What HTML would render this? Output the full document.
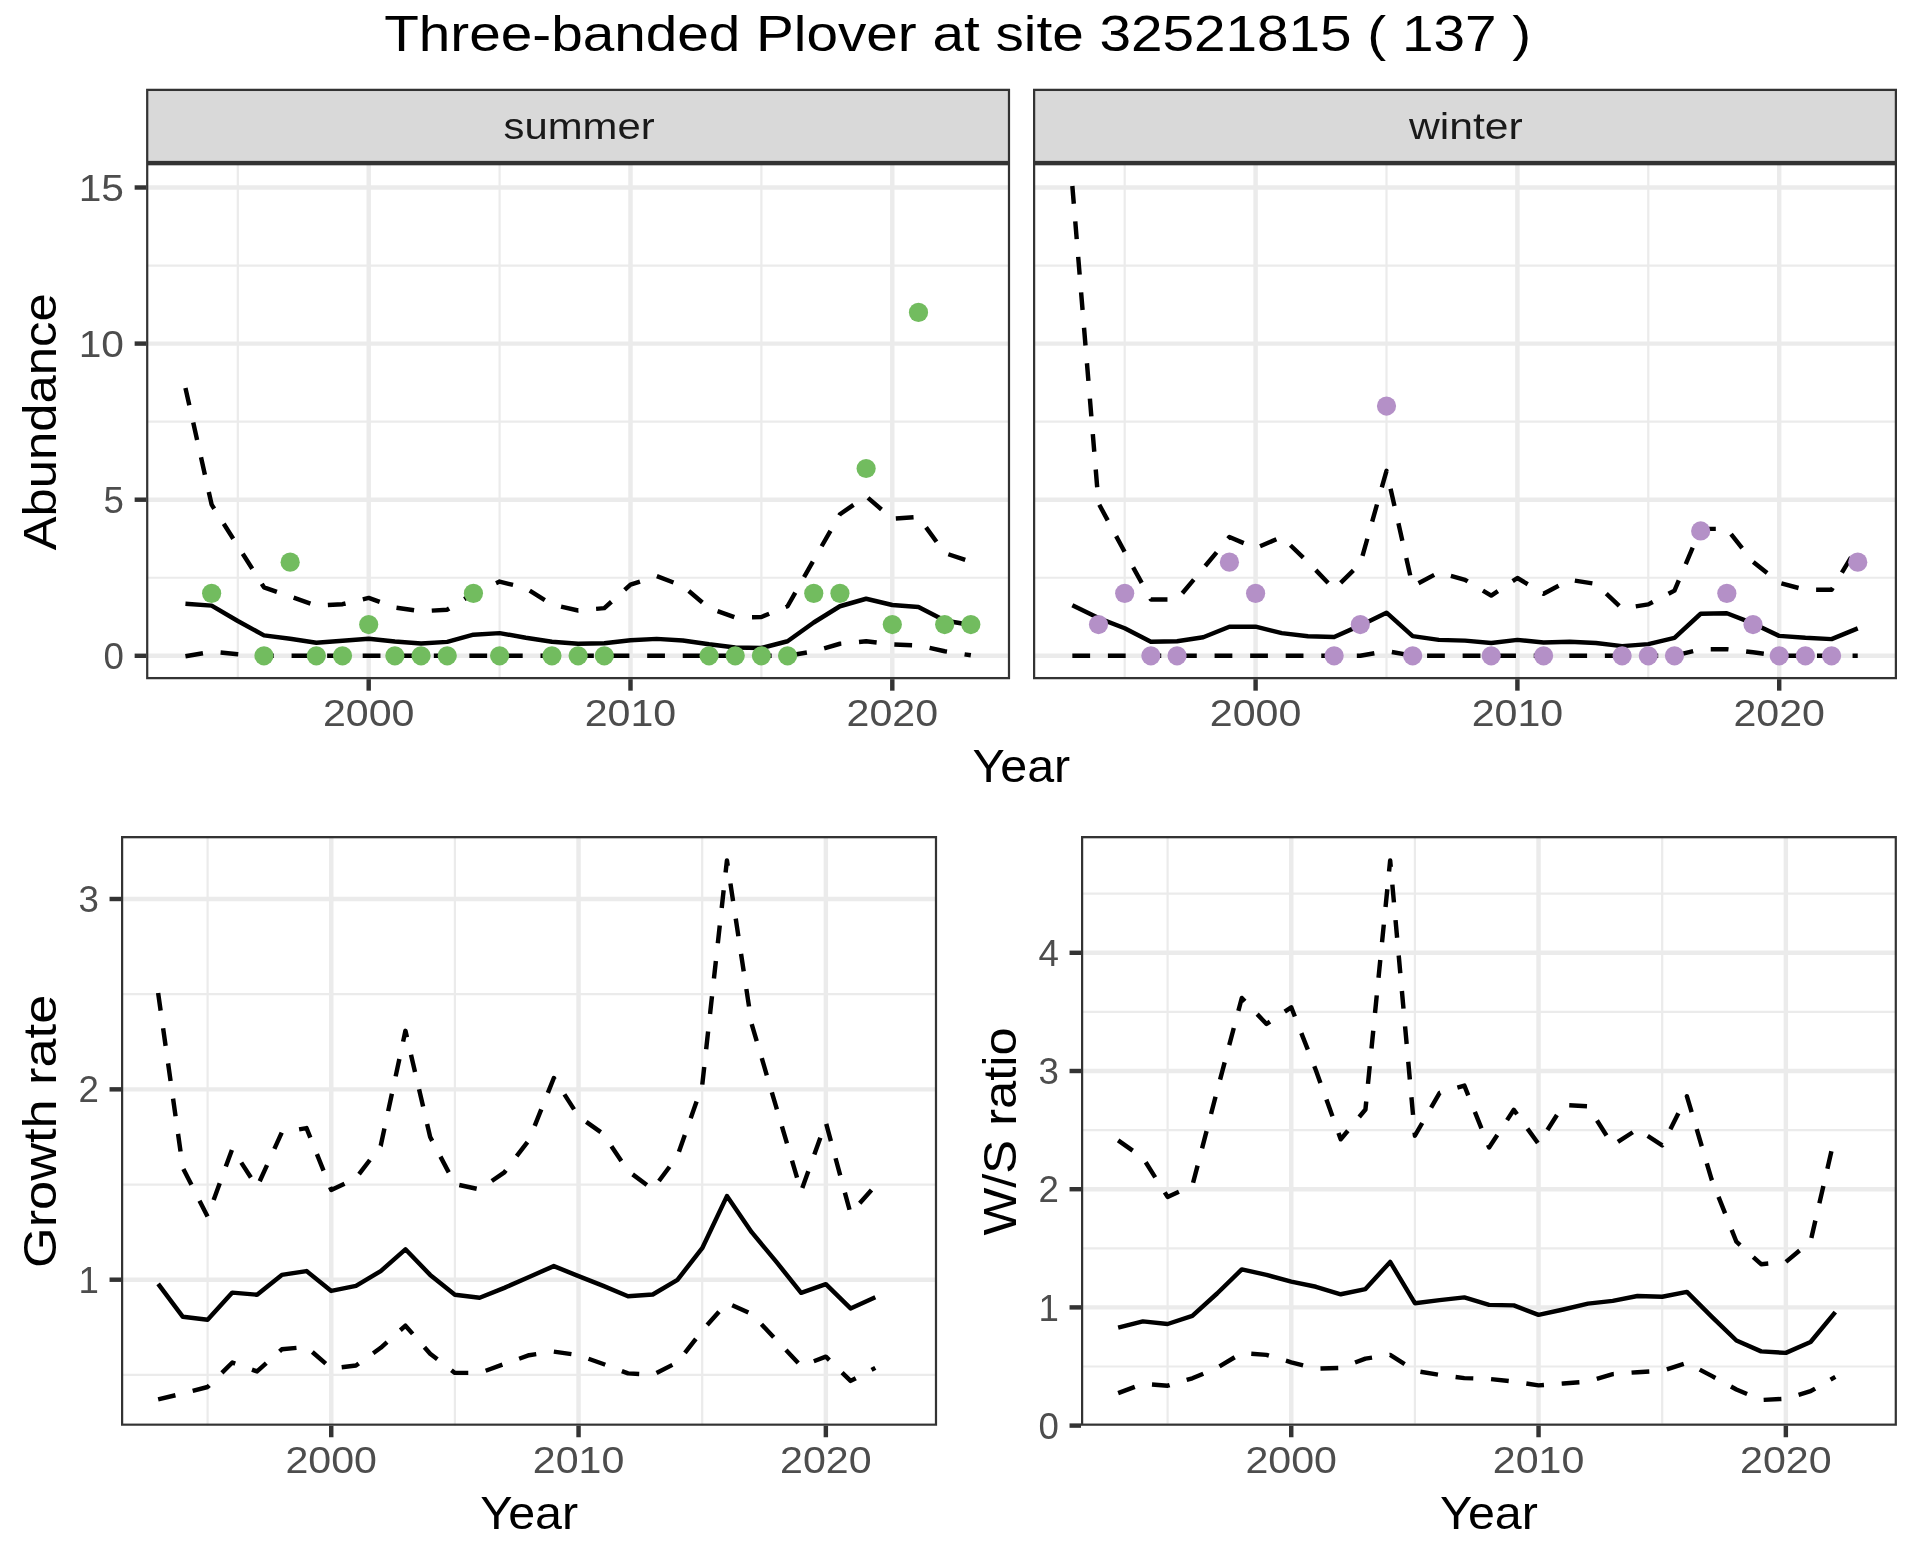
<!DOCTYPE html><html><head><meta charset="utf-8"><title>Three-banded Plover</title>
<style>html,body{margin:0;padding:0;background:#fff;}svg{display:block;will-change:transform;}text{font-family:"Liberation Sans", sans-serif;}</style></head><body>
<svg width="1920" height="1560" viewBox="0 0 1920 1560">
<rect x="0" y="0" width="1920" height="1560" fill="#fff"/>
<defs>
<clipPath id="cs"><rect x="146.1" y="163.1" width="864" height="516.1"/></clipPath>
<clipPath id="cw"><rect x="1033" y="163.1" width="864" height="516.1"/></clipPath>
<clipPath id="cg"><rect x="121" y="836.1" width="816.1" height="589.7"/></clipPath>
<clipPath id="cr"><rect x="1081" y="836.1" width="815.9" height="589.7"/></clipPath>
<clipPath id="ss"><rect x="146.1" y="88.8" width="864" height="74.3"/></clipPath>
<clipPath id="sw"><rect x="1033" y="88.8" width="864" height="74.3"/></clipPath>
</defs>
<text x="957.7" y="51.3" font-size="50.4" fill="#000" text-anchor="middle" textLength="1147" lengthAdjust="spacingAndGlyphs">Three-banded Plover at site 32521815 ( 137 )</text>
<rect x="146.1" y="88.8" width="864" height="74.3" fill="#D9D9D9" stroke="#333333" stroke-width="4.446" clip-path="url(#ss)"/>
<rect x="1033" y="88.8" width="864" height="74.3" fill="#D9D9D9" stroke="#333333" stroke-width="4.446" clip-path="url(#sw)"/>
<text x="579.1" y="138.6" font-size="36.67" fill="#1A1A1A" text-anchor="middle" textLength="151.1" lengthAdjust="spacingAndGlyphs">summer</text>
<text x="1465.8" y="138.6" font-size="36.67" fill="#1A1A1A" text-anchor="middle" textLength="113.8" lengthAdjust="spacingAndGlyphs">winter</text>
<g clip-path="url(#cs)"><line x1="146.1" y1="577.75" x2="1010.1" y2="577.75" stroke="#EBEBEB" stroke-width="2.223"/><line x1="146.1" y1="421.65" x2="1010.1" y2="421.65" stroke="#EBEBEB" stroke-width="2.223"/><line x1="146.1" y1="265.55" x2="1010.1" y2="265.55" stroke="#EBEBEB" stroke-width="2.223"/><line x1="237.8" y1="163.1" x2="237.8" y2="679.2" stroke="#EBEBEB" stroke-width="2.223"/><line x1="499.6" y1="163.1" x2="499.6" y2="679.2" stroke="#EBEBEB" stroke-width="2.223"/><line x1="761.4" y1="163.1" x2="761.4" y2="679.2" stroke="#EBEBEB" stroke-width="2.223"/><line x1="146.1" y1="655.8" x2="1010.1" y2="655.8" stroke="#EBEBEB" stroke-width="4.446"/><line x1="146.1" y1="499.7" x2="1010.1" y2="499.7" stroke="#EBEBEB" stroke-width="4.446"/><line x1="146.1" y1="343.6" x2="1010.1" y2="343.6" stroke="#EBEBEB" stroke-width="4.446"/><line x1="146.1" y1="187.5" x2="1010.1" y2="187.5" stroke="#EBEBEB" stroke-width="4.446"/><line x1="368.7" y1="163.1" x2="368.7" y2="679.2" stroke="#EBEBEB" stroke-width="4.446"/><line x1="630.5" y1="163.1" x2="630.5" y2="679.2" stroke="#EBEBEB" stroke-width="4.446"/><line x1="892.3" y1="163.1" x2="892.3" y2="679.2" stroke="#EBEBEB" stroke-width="4.446"/></g>
<g clip-path="url(#cw)"><line x1="1033" y1="577.75" x2="1897" y2="577.75" stroke="#EBEBEB" stroke-width="2.223"/><line x1="1033" y1="421.65" x2="1897" y2="421.65" stroke="#EBEBEB" stroke-width="2.223"/><line x1="1033" y1="265.55" x2="1897" y2="265.55" stroke="#EBEBEB" stroke-width="2.223"/><line x1="1124.7" y1="163.1" x2="1124.7" y2="679.2" stroke="#EBEBEB" stroke-width="2.223"/><line x1="1386.5" y1="163.1" x2="1386.5" y2="679.2" stroke="#EBEBEB" stroke-width="2.223"/><line x1="1648.3" y1="163.1" x2="1648.3" y2="679.2" stroke="#EBEBEB" stroke-width="2.223"/><line x1="1033" y1="655.8" x2="1897" y2="655.8" stroke="#EBEBEB" stroke-width="4.446"/><line x1="1033" y1="499.7" x2="1897" y2="499.7" stroke="#EBEBEB" stroke-width="4.446"/><line x1="1033" y1="343.6" x2="1897" y2="343.6" stroke="#EBEBEB" stroke-width="4.446"/><line x1="1033" y1="187.5" x2="1897" y2="187.5" stroke="#EBEBEB" stroke-width="4.446"/><line x1="1255.6" y1="163.1" x2="1255.6" y2="679.2" stroke="#EBEBEB" stroke-width="4.446"/><line x1="1517.4" y1="163.1" x2="1517.4" y2="679.2" stroke="#EBEBEB" stroke-width="4.446"/><line x1="1779.2" y1="163.1" x2="1779.2" y2="679.2" stroke="#EBEBEB" stroke-width="4.446"/></g>
<g clip-path="url(#cg)"><line x1="121" y1="1374.88" x2="937.1" y2="1374.88" stroke="#EBEBEB" stroke-width="2.223"/><line x1="121" y1="1184.53" x2="937.1" y2="1184.53" stroke="#EBEBEB" stroke-width="2.223"/><line x1="121" y1="994.18" x2="937.1" y2="994.18" stroke="#EBEBEB" stroke-width="2.223"/><line x1="207.6" y1="836.1" x2="207.6" y2="1425.8" stroke="#EBEBEB" stroke-width="2.223"/><line x1="454.9" y1="836.1" x2="454.9" y2="1425.8" stroke="#EBEBEB" stroke-width="2.223"/><line x1="702.2" y1="836.1" x2="702.2" y2="1425.8" stroke="#EBEBEB" stroke-width="2.223"/><line x1="121" y1="1279.7" x2="937.1" y2="1279.7" stroke="#EBEBEB" stroke-width="4.446"/><line x1="121" y1="1089.35" x2="937.1" y2="1089.35" stroke="#EBEBEB" stroke-width="4.446"/><line x1="121" y1="899" x2="937.1" y2="899" stroke="#EBEBEB" stroke-width="4.446"/><line x1="331.25" y1="836.1" x2="331.25" y2="1425.8" stroke="#EBEBEB" stroke-width="4.446"/><line x1="578.55" y1="836.1" x2="578.55" y2="1425.8" stroke="#EBEBEB" stroke-width="4.446"/><line x1="825.85" y1="836.1" x2="825.85" y2="1425.8" stroke="#EBEBEB" stroke-width="4.446"/></g>
<g clip-path="url(#cr)"><line x1="1081" y1="1366.5" x2="1896.9" y2="1366.5" stroke="#EBEBEB" stroke-width="2.223"/><line x1="1081" y1="1248.3" x2="1896.9" y2="1248.3" stroke="#EBEBEB" stroke-width="2.223"/><line x1="1081" y1="1130.1" x2="1896.9" y2="1130.1" stroke="#EBEBEB" stroke-width="2.223"/><line x1="1081" y1="1011.9" x2="1896.9" y2="1011.9" stroke="#EBEBEB" stroke-width="2.223"/><line x1="1081" y1="893.7" x2="1896.9" y2="893.7" stroke="#EBEBEB" stroke-width="2.223"/><line x1="1167.6" y1="836.1" x2="1167.6" y2="1425.8" stroke="#EBEBEB" stroke-width="2.223"/><line x1="1414.9" y1="836.1" x2="1414.9" y2="1425.8" stroke="#EBEBEB" stroke-width="2.223"/><line x1="1662.2" y1="836.1" x2="1662.2" y2="1425.8" stroke="#EBEBEB" stroke-width="2.223"/><line x1="1081" y1="1425.6" x2="1896.9" y2="1425.6" stroke="#EBEBEB" stroke-width="4.446"/><line x1="1081" y1="1307.4" x2="1896.9" y2="1307.4" stroke="#EBEBEB" stroke-width="4.446"/><line x1="1081" y1="1189.2" x2="1896.9" y2="1189.2" stroke="#EBEBEB" stroke-width="4.446"/><line x1="1081" y1="1071" x2="1896.9" y2="1071" stroke="#EBEBEB" stroke-width="4.446"/><line x1="1081" y1="952.8" x2="1896.9" y2="952.8" stroke="#EBEBEB" stroke-width="4.446"/><line x1="1291.25" y1="836.1" x2="1291.25" y2="1425.8" stroke="#EBEBEB" stroke-width="4.446"/><line x1="1538.55" y1="836.1" x2="1538.55" y2="1425.8" stroke="#EBEBEB" stroke-width="4.446"/><line x1="1785.85" y1="836.1" x2="1785.85" y2="1425.8" stroke="#EBEBEB" stroke-width="4.446"/></g>
<g clip-path="url(#cs)">
<polyline points="185.44,387.9 211.62,504.6 237.8,546 263.98,587.3 290.16,596.5 316.34,605.6 342.52,604.2 368.7,597.9 394.88,607.5 421.06,611.3 447.24,609.7 473.42,593.5 499.6,581.6 525.78,588.1 551.96,604.5 578.14,610.5 604.32,608.1 630.5,584.7 656.68,576.1 682.86,586 709.04,608.1 735.22,617.5 761.4,617 787.58,606.25 813.76,560 839.94,514.25 866.12,496.25 892.3,518.75 918.48,517 944.66,553 970.84,561.75" fill="none" stroke="#000" stroke-width="4.446" stroke-linejoin="round" stroke-linecap="butt" stroke-dasharray="17.78 17.78"/>
<polyline points="185.44,656.2 211.62,651.7 237.8,654.2 263.98,655.8 290.16,655.8 316.34,655.8 342.52,655.8 368.7,655.8 394.88,655.8 421.06,655.8 447.24,655.8 473.42,655.8 499.6,655.8 525.78,655.8 551.96,655.8 578.14,655.8 604.32,655.8 630.5,655.8 656.68,655.8 682.86,655.8 709.04,655.8 735.22,655.8 761.4,655.8 787.58,655.8 813.76,651.25 839.94,643.75 866.12,641.25 892.3,644.5 918.48,645.5 944.66,651.25 970.84,655.3" fill="none" stroke="#000" stroke-width="4.446" stroke-linejoin="round" stroke-linecap="butt" stroke-dasharray="17.78 17.78"/>
<polyline points="185.44,603.7 211.62,605.6 237.8,621 263.98,635.4 290.16,638.8 316.34,642.7 342.52,640.8 368.7,638.8 394.88,641.5 421.06,643.5 447.24,641.9 473.42,634.7 499.6,633.1 525.78,637.8 551.96,641.7 578.14,643.75 604.32,643.3 630.5,640.2 656.68,638.9 682.86,640.5 709.04,644.3 735.22,647.5 761.4,648 787.58,641.25 813.76,622.5 839.94,606.25 866.12,598.75 892.3,605 918.48,607 944.66,620.5 970.84,625" fill="none" stroke="#000" stroke-width="4.446" stroke-linejoin="round" stroke-linecap="butt"/>
<circle cx="211.62" cy="593.36" r="9.6" fill="#72BC5F"/>
<circle cx="263.98" cy="655.8" r="9.6" fill="#72BC5F"/>
<circle cx="290.16" cy="562.14" r="9.6" fill="#72BC5F"/>
<circle cx="316.34" cy="655.8" r="9.6" fill="#72BC5F"/>
<circle cx="342.52" cy="655.8" r="9.6" fill="#72BC5F"/>
<circle cx="368.7" cy="624.58" r="9.6" fill="#72BC5F"/>
<circle cx="394.88" cy="655.8" r="9.6" fill="#72BC5F"/>
<circle cx="421.06" cy="655.8" r="9.6" fill="#72BC5F"/>
<circle cx="447.24" cy="655.8" r="9.6" fill="#72BC5F"/>
<circle cx="473.42" cy="593.36" r="9.6" fill="#72BC5F"/>
<circle cx="499.6" cy="655.8" r="9.6" fill="#72BC5F"/>
<circle cx="551.96" cy="655.8" r="9.6" fill="#72BC5F"/>
<circle cx="578.14" cy="655.8" r="9.6" fill="#72BC5F"/>
<circle cx="604.32" cy="655.8" r="9.6" fill="#72BC5F"/>
<circle cx="709.04" cy="655.8" r="9.6" fill="#72BC5F"/>
<circle cx="735.22" cy="655.8" r="9.6" fill="#72BC5F"/>
<circle cx="761.4" cy="655.8" r="9.6" fill="#72BC5F"/>
<circle cx="787.58" cy="655.8" r="9.6" fill="#72BC5F"/>
<circle cx="813.76" cy="593.36" r="9.6" fill="#72BC5F"/>
<circle cx="839.94" cy="593.36" r="9.6" fill="#72BC5F"/>
<circle cx="866.12" cy="468.48" r="9.6" fill="#72BC5F"/>
<circle cx="892.3" cy="624.58" r="9.6" fill="#72BC5F"/>
<circle cx="918.48" cy="312.38" r="9.6" fill="#72BC5F"/>
<circle cx="944.66" cy="624.58" r="9.6" fill="#72BC5F"/>
<circle cx="970.84" cy="624.58" r="9.6" fill="#72BC5F"/>
</g>
<g clip-path="url(#cw)">
<polyline points="1072.34,186 1098.52,503.3 1124.7,552 1150.88,599.5 1177.06,599.5 1203.24,568.4 1229.42,537 1255.6,548.2 1281.78,537 1307.96,562 1334.14,589.2 1360.32,563.6 1386.5,470.8 1412.68,586.3 1438.86,572.4 1465.04,579.8 1491.22,595.6 1517.4,578 1543.58,593.8 1569.76,579.8 1595.94,584 1622.12,608.6 1648.3,604.4 1674.48,590.6 1700.66,528.9 1726.84,528.9 1753.02,561.7 1779.2,582.8 1805.38,589.8 1831.56,589.8 1857.74,546.1" fill="none" stroke="#000" stroke-width="4.446" stroke-linejoin="round" stroke-linecap="butt" stroke-dasharray="17.78 17.78"/>
<polyline points="1072.34,655.8 1098.52,655.8 1124.7,655.8 1150.88,655.8 1177.06,655.8 1203.24,655.8 1229.42,655.8 1255.6,655.8 1281.78,655.8 1307.96,655.8 1334.14,655.8 1360.32,655.8 1386.5,651 1412.68,655.8 1438.86,655.8 1465.04,655.8 1491.22,655.8 1517.4,655.8 1543.58,655.8 1569.76,655.8 1595.94,655.8 1622.12,655.8 1648.3,655.8 1674.48,655.8 1700.66,649.2 1726.84,649.2 1753.02,652.3 1779.2,655.8 1805.38,655.8 1831.56,655.8 1857.74,655.8" fill="none" stroke="#000" stroke-width="4.446" stroke-linejoin="round" stroke-linecap="butt" stroke-dasharray="17.78 17.78"/>
<polyline points="1072.34,605.3 1098.52,618.1 1124.7,628.3 1150.88,641.8 1177.06,641.2 1203.24,637.3 1229.42,626.7 1255.6,626.7 1281.78,633.1 1307.96,636.3 1334.14,637 1360.32,625.4 1386.5,612.7 1412.68,636.1 1438.86,639.9 1465.04,640.6 1491.22,643 1517.4,639.9 1543.58,642.5 1569.76,641.7 1595.94,643 1622.12,646.1 1648.3,644.1 1674.48,637.8 1700.66,613.75 1726.84,613.3 1753.02,623.4 1779.2,635.9 1805.38,637.8 1831.56,639.1 1857.74,628.4" fill="none" stroke="#000" stroke-width="4.446" stroke-linejoin="round" stroke-linecap="butt"/>
<circle cx="1098.52" cy="624.58" r="9.6" fill="#B490C7"/>
<circle cx="1124.7" cy="593.36" r="9.6" fill="#B490C7"/>
<circle cx="1150.88" cy="655.8" r="9.6" fill="#B490C7"/>
<circle cx="1177.06" cy="655.8" r="9.6" fill="#B490C7"/>
<circle cx="1229.42" cy="562.14" r="9.6" fill="#B490C7"/>
<circle cx="1255.6" cy="593.36" r="9.6" fill="#B490C7"/>
<circle cx="1334.14" cy="655.8" r="9.6" fill="#B490C7"/>
<circle cx="1360.32" cy="624.58" r="9.6" fill="#B490C7"/>
<circle cx="1386.5" cy="406.04" r="9.6" fill="#B490C7"/>
<circle cx="1412.68" cy="655.8" r="9.6" fill="#B490C7"/>
<circle cx="1491.22" cy="655.8" r="9.6" fill="#B490C7"/>
<circle cx="1543.58" cy="655.8" r="9.6" fill="#B490C7"/>
<circle cx="1622.12" cy="655.8" r="9.6" fill="#B490C7"/>
<circle cx="1648.3" cy="655.8" r="9.6" fill="#B490C7"/>
<circle cx="1674.48" cy="655.8" r="9.6" fill="#B490C7"/>
<circle cx="1700.66" cy="530.92" r="9.6" fill="#B490C7"/>
<circle cx="1726.84" cy="593.36" r="9.6" fill="#B490C7"/>
<circle cx="1753.02" cy="624.58" r="9.6" fill="#B490C7"/>
<circle cx="1779.2" cy="655.8" r="9.6" fill="#B490C7"/>
<circle cx="1805.38" cy="655.8" r="9.6" fill="#B490C7"/>
<circle cx="1831.56" cy="655.8" r="9.6" fill="#B490C7"/>
<circle cx="1857.74" cy="562.14" r="9.6" fill="#B490C7"/>
</g>
<g clip-path="url(#cg)">
<polyline points="158.14,993 182.87,1167.9 207.6,1216.6 232.33,1148.7 257.06,1187.1 281.79,1132.5 306.52,1128.1 331.25,1190 355.98,1178.2 380.71,1145.8 405.44,1030.8 430.17,1137 454.9,1184.1 479.63,1189.4 504.36,1172.3 529.09,1139.9 553.82,1078 578.55,1116.3 603.28,1134 628.01,1170.9 652.74,1189.4 677.47,1156 702.2,1085.4 726.93,860.4 751.66,1024 776.39,1107.7 801.12,1191.3 825.85,1122.5 850.58,1213.6 875.31,1185.7" fill="none" stroke="#000" stroke-width="4.446" stroke-linejoin="round" stroke-linecap="butt" stroke-dasharray="17.78 17.78"/>
<polyline points="158.14,1399.4 182.87,1393.5 207.6,1387 232.33,1362.5 257.06,1371.4 281.79,1349.3 306.52,1346.9 331.25,1368.4 355.98,1365.5 380.71,1347.8 405.44,1325.7 430.17,1353.7 454.9,1372.9 479.63,1372.9 504.36,1364 529.09,1355.2 553.82,1351.6 578.55,1355.2 603.28,1364 628.01,1373.4 652.74,1374.8 677.47,1362.3 702.2,1330.7 726.93,1302.8 751.66,1314 776.39,1340 801.12,1366 825.85,1356.7 850.58,1380.9 875.31,1367.9" fill="none" stroke="#000" stroke-width="4.446" stroke-linejoin="round" stroke-linecap="butt" stroke-dasharray="17.78 17.78"/>
<polyline points="158.14,1283.8 182.87,1316.8 207.6,1319.8 232.33,1292.6 257.06,1294.7 281.79,1274.9 306.52,1271.1 331.25,1290.9 355.98,1285.9 380.71,1271.1 405.44,1249.3 430.17,1274.9 454.9,1294.7 479.63,1297.7 504.36,1287.9 529.09,1277 553.82,1266.1 578.55,1276.1 603.28,1285.9 628.01,1296.2 652.74,1294.5 677.47,1279.8 702.2,1248.2 726.93,1196.1 751.66,1232.2 776.39,1261.9 801.12,1292.8 825.85,1284.2 850.58,1308.4 875.31,1297.2" fill="none" stroke="#000" stroke-width="4.446" stroke-linejoin="round" stroke-linecap="butt"/>
</g>
<g clip-path="url(#cr)">
<polyline points="1118.14,1140.4 1142.87,1157.8 1167.6,1196.9 1192.33,1185.7 1217.06,1090.9 1241.79,998 1266.52,1024 1291.25,1007.3 1315.98,1070.5 1340.71,1139.3 1365.44,1109.5 1390.17,860.4 1414.9,1135.7 1439.63,1092.8 1464.36,1085.6 1489.09,1147.5 1513.82,1109.8 1538.55,1144 1563.28,1105 1588.01,1106.3 1612.74,1145.3 1637.47,1129.2 1662.2,1145.4 1686.93,1096.3 1711.66,1179.6 1736.39,1241.7 1761.12,1264.2 1785.85,1262 1810.58,1241.3 1835.31,1134.5" fill="none" stroke="#000" stroke-width="4.446" stroke-linejoin="round" stroke-linecap="butt" stroke-dasharray="17.78 17.78"/>
<polyline points="1118.14,1393.2 1142.87,1383.9 1167.6,1385.7 1192.33,1378.3 1217.06,1367.9 1241.79,1353 1266.52,1354.9 1291.25,1362.3 1315.98,1368.6 1340.71,1367.9 1365.44,1358.6 1390.17,1354.9 1414.9,1370.8 1439.63,1374.9 1464.36,1378.1 1489.09,1378.9 1513.82,1381.6 1538.55,1385.4 1563.28,1383.5 1588.01,1381.6 1612.74,1374.1 1637.47,1372.2 1662.2,1370.9 1686.93,1362.9 1711.66,1375.9 1736.39,1389.5 1761.12,1400 1785.85,1398.7 1810.58,1391.2 1835.31,1376.9" fill="none" stroke="#000" stroke-width="4.446" stroke-linejoin="round" stroke-linecap="butt" stroke-dasharray="17.78 17.78"/>
<polyline points="1118.14,1327.7 1142.87,1321.4 1167.6,1324 1192.33,1315.8 1217.06,1293.5 1241.79,1269.4 1266.52,1274.9 1291.25,1281.6 1315.98,1286.8 1340.71,1294.3 1365.44,1289.1 1390.17,1261.9 1414.9,1303.2 1439.63,1300.1 1464.36,1297.4 1489.09,1304.9 1513.82,1305.4 1538.55,1314.9 1563.28,1309.5 1588.01,1303.6 1612.74,1300.9 1637.47,1296 1662.2,1296.8 1686.93,1291.9 1711.66,1316.6 1736.39,1340.5 1761.12,1351.4 1785.85,1352.9 1810.58,1342 1835.31,1312.1" fill="none" stroke="#000" stroke-width="4.446" stroke-linejoin="round" stroke-linecap="butt"/>
</g>
<rect x="146.1" y="163.1" width="864" height="516.1" fill="none" stroke="#333333" stroke-width="4.446" clip-path="url(#cs)"/>
<rect x="1033" y="163.1" width="864" height="516.1" fill="none" stroke="#333333" stroke-width="4.446" clip-path="url(#cw)"/>
<rect x="121" y="836.1" width="816.1" height="589.7" fill="none" stroke="#333333" stroke-width="4.446" clip-path="url(#cg)"/>
<rect x="1081" y="836.1" width="815.9" height="589.7" fill="none" stroke="#333333" stroke-width="4.446" clip-path="url(#cr)"/>
<line x1="134.64" y1="655.8" x2="146.1" y2="655.8" stroke="#333333" stroke-width="4.446"/>
<text x="124" y="668.9" font-size="36.67" fill="#4D4D4D" text-anchor="end">0</text>
<line x1="134.64" y1="499.7" x2="146.1" y2="499.7" stroke="#333333" stroke-width="4.446"/>
<text x="124" y="512.8" font-size="36.67" fill="#4D4D4D" text-anchor="end">5</text>
<line x1="134.64" y1="343.6" x2="146.1" y2="343.6" stroke="#333333" stroke-width="4.446"/>
<text x="124" y="356.7" font-size="36.67" fill="#4D4D4D" text-anchor="end" textLength="45.3" lengthAdjust="spacingAndGlyphs">10</text>
<line x1="134.64" y1="187.5" x2="146.1" y2="187.5" stroke="#333333" stroke-width="4.446"/>
<text x="124" y="200.6" font-size="36.67" fill="#4D4D4D" text-anchor="end" textLength="45.3" lengthAdjust="spacingAndGlyphs">15</text>
<line x1="109.54" y1="1279.7" x2="121" y2="1279.7" stroke="#333333" stroke-width="4.446"/>
<text x="99" y="1292.8" font-size="36.67" fill="#4D4D4D" text-anchor="end">1</text>
<line x1="109.54" y1="1089.35" x2="121" y2="1089.35" stroke="#333333" stroke-width="4.446"/>
<text x="99" y="1102.45" font-size="36.67" fill="#4D4D4D" text-anchor="end">2</text>
<line x1="109.54" y1="899" x2="121" y2="899" stroke="#333333" stroke-width="4.446"/>
<text x="99" y="912.1" font-size="36.67" fill="#4D4D4D" text-anchor="end">3</text>
<line x1="1069.54" y1="1425.6" x2="1081" y2="1425.6" stroke="#333333" stroke-width="4.446"/>
<text x="1059" y="1438.7" font-size="36.67" fill="#4D4D4D" text-anchor="end">0</text>
<line x1="1069.54" y1="1307.4" x2="1081" y2="1307.4" stroke="#333333" stroke-width="4.446"/>
<text x="1059" y="1320.5" font-size="36.67" fill="#4D4D4D" text-anchor="end">1</text>
<line x1="1069.54" y1="1189.2" x2="1081" y2="1189.2" stroke="#333333" stroke-width="4.446"/>
<text x="1059" y="1202.3" font-size="36.67" fill="#4D4D4D" text-anchor="end">2</text>
<line x1="1069.54" y1="1071" x2="1081" y2="1071" stroke="#333333" stroke-width="4.446"/>
<text x="1059" y="1084.1" font-size="36.67" fill="#4D4D4D" text-anchor="end">3</text>
<line x1="1069.54" y1="952.8" x2="1081" y2="952.8" stroke="#333333" stroke-width="4.446"/>
<text x="1059" y="965.9" font-size="36.67" fill="#4D4D4D" text-anchor="end">4</text>
<line x1="368.7" y1="679.2" x2="368.7" y2="690.66" stroke="#333333" stroke-width="4.446"/>
<text x="368.7" y="725.9" font-size="36.67" fill="#4D4D4D" text-anchor="middle" textLength="91.5" lengthAdjust="spacingAndGlyphs">2000</text>
<line x1="630.5" y1="679.2" x2="630.5" y2="690.66" stroke="#333333" stroke-width="4.446"/>
<text x="630.5" y="725.9" font-size="36.67" fill="#4D4D4D" text-anchor="middle" textLength="91.5" lengthAdjust="spacingAndGlyphs">2010</text>
<line x1="892.3" y1="679.2" x2="892.3" y2="690.66" stroke="#333333" stroke-width="4.446"/>
<text x="892.3" y="725.9" font-size="36.67" fill="#4D4D4D" text-anchor="middle" textLength="91.5" lengthAdjust="spacingAndGlyphs">2020</text>
<line x1="1255.6" y1="679.2" x2="1255.6" y2="690.66" stroke="#333333" stroke-width="4.446"/>
<text x="1255.6" y="725.9" font-size="36.67" fill="#4D4D4D" text-anchor="middle" textLength="91.5" lengthAdjust="spacingAndGlyphs">2000</text>
<line x1="1517.4" y1="679.2" x2="1517.4" y2="690.66" stroke="#333333" stroke-width="4.446"/>
<text x="1517.4" y="725.9" font-size="36.67" fill="#4D4D4D" text-anchor="middle" textLength="91.5" lengthAdjust="spacingAndGlyphs">2010</text>
<line x1="1779.2" y1="679.2" x2="1779.2" y2="690.66" stroke="#333333" stroke-width="4.446"/>
<text x="1779.2" y="725.9" font-size="36.67" fill="#4D4D4D" text-anchor="middle" textLength="91.5" lengthAdjust="spacingAndGlyphs">2020</text>
<line x1="331.25" y1="1425.8" x2="331.25" y2="1437.26" stroke="#333333" stroke-width="4.446"/>
<text x="331.25" y="1472.9" font-size="36.67" fill="#4D4D4D" text-anchor="middle" textLength="91.5" lengthAdjust="spacingAndGlyphs">2000</text>
<line x1="578.55" y1="1425.8" x2="578.55" y2="1437.26" stroke="#333333" stroke-width="4.446"/>
<text x="578.55" y="1472.9" font-size="36.67" fill="#4D4D4D" text-anchor="middle" textLength="91.5" lengthAdjust="spacingAndGlyphs">2010</text>
<line x1="825.85" y1="1425.8" x2="825.85" y2="1437.26" stroke="#333333" stroke-width="4.446"/>
<text x="825.85" y="1472.9" font-size="36.67" fill="#4D4D4D" text-anchor="middle" textLength="91.5" lengthAdjust="spacingAndGlyphs">2020</text>
<line x1="1291.25" y1="1425.8" x2="1291.25" y2="1437.26" stroke="#333333" stroke-width="4.446"/>
<text x="1291.25" y="1472.9" font-size="36.67" fill="#4D4D4D" text-anchor="middle" textLength="91.5" lengthAdjust="spacingAndGlyphs">2000</text>
<line x1="1538.55" y1="1425.8" x2="1538.55" y2="1437.26" stroke="#333333" stroke-width="4.446"/>
<text x="1538.55" y="1472.9" font-size="36.67" fill="#4D4D4D" text-anchor="middle" textLength="91.5" lengthAdjust="spacingAndGlyphs">2010</text>
<line x1="1785.85" y1="1425.8" x2="1785.85" y2="1437.26" stroke="#333333" stroke-width="4.446"/>
<text x="1785.85" y="1472.9" font-size="36.67" fill="#4D4D4D" text-anchor="middle" textLength="91.5" lengthAdjust="spacingAndGlyphs">2020</text>
<text x="0" y="0" transform="translate(56,421.8) rotate(-90)" font-size="46.8" fill="#000" text-anchor="middle" textLength="257" lengthAdjust="spacingAndGlyphs">Abundance</text>
<text x="1021.3" y="781.8" font-size="46.8" fill="#000" text-anchor="middle" textLength="97.8" lengthAdjust="spacingAndGlyphs">Year</text>
<text x="0" y="0" transform="translate(55.8,1131.4) rotate(-90)" font-size="46.8" fill="#000" text-anchor="middle" textLength="273.3" lengthAdjust="spacingAndGlyphs">Growth rate</text>
<text x="0" y="0" transform="translate(1015.8,1131.4) rotate(-90)" font-size="46.8" fill="#000" text-anchor="middle" textLength="208.2" lengthAdjust="spacingAndGlyphs">W/S ratio</text>
<text x="529.2" y="1528.8" font-size="46.8" fill="#000" text-anchor="middle" textLength="97.8" lengthAdjust="spacingAndGlyphs">Year</text>
<text x="1489" y="1528.8" font-size="46.8" fill="#000" text-anchor="middle" textLength="97.8" lengthAdjust="spacingAndGlyphs">Year</text>
</svg></body></html>
